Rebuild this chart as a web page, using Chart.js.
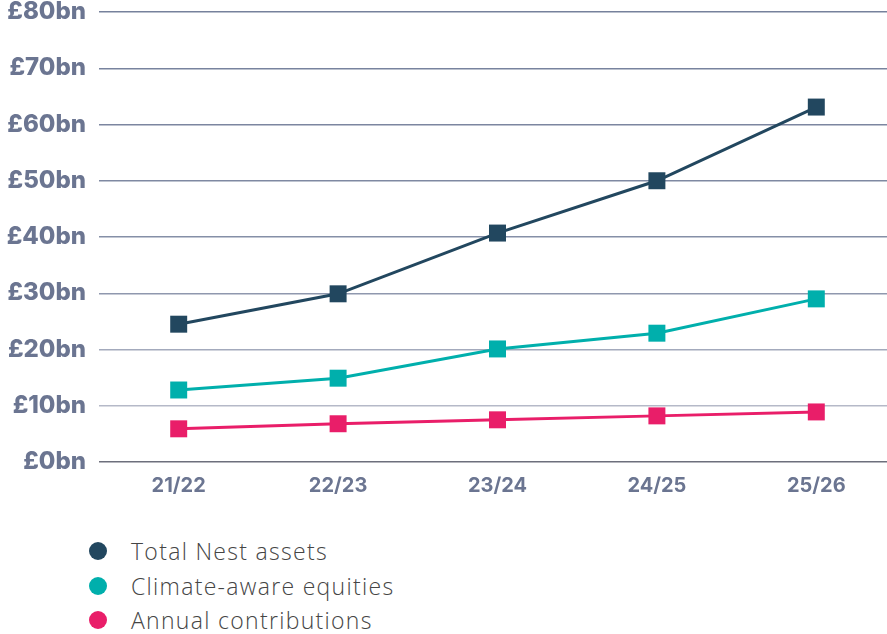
<!DOCTYPE html>
<html>
<head>
<meta charset="utf-8">
<script src="https://cdn.jsdelivr.net/npm/chart.js@4.4.1/dist/chart.umd.min.js"></script>
<style>
  html, body { margin: 0; padding: 0; background: #fff; overflow: hidden; width: 887px; }
  #chart { display: block; width: 908px; height: 500px; }
  #legend { list-style: none; margin: 34px 0 0 0; padding: 0 0 0 89px; font-family: "Open Sans", sans-serif; font-weight: 300; font-size: 23px; letter-spacing: 1.3px; color: #454545; }
  #legend li { height: 34.5px; line-height: 34.5px; display: flex; align-items: center; }
  #legend span.dot { display: inline-block; width: 18px; height: 18px; border-radius: 50%; margin-right: 24px; }
</style>
</head>
<body>
<canvas id="chart" width="908" height="500"></canvas>
<ul id="legend"></ul>
<script>
// ===============================
// DATA
// ===============================
const years = ["21/22", "22/23", "23/24", "24/25", "25/26"];
const totalAssets = [24.5, 29.9, 40.7, 50.0, 63.1];
const climateEquities = [12.8, 14.9, 20.1, 22.9, 29.0];
const annualContributions = [5.9, 6.8, 7.5, 8.2, 8.9];

const seriesNames = ["Total Nest assets", "Climate-aware equities", "Annual contributions"];
const seriesColors = ["#22475f", "#00afac", "#e91e69"];

// grid line colour by value, darker at the top
const gridColors = {
  0: "#6d6f7c", 10: "#b5b9c8", 20: "#a3aabc", 30: "#8f98ae",
  40: "#858fa7", 50: "#7f89a2", 60: "#7c86a0", 70: "#78839e", 80: "#76819c"
};

function makeSet(i, values) {
  return {
    label: seriesNames[i],
    data: values,
    borderColor: seriesColors[i],
    backgroundColor: seriesColors[i],
    borderWidth: 3,
    pointStyle: "rect",
    pointRadius: 12,
    pointHoverRadius: 12,
    pointBorderWidth: 0,
    tension: 0
  };
}

const chart = new Chart(document.getElementById("chart"), {
  type: "line",
  data: {
    labels: years,
    datasets: [
      makeSet(0, totalAssets),
      makeSet(1, climateEquities),
      makeSet(2, annualContributions)
    ]
  },
  options: {
    responsive: false,
    animation: false,
    layout: { padding: { top: 12, right: 0, left: 0, bottom: 0 } },
    plugins: { legend: { display: false }, tooltip: { enabled: false } },
    scales: {
      x: {
        offset: true,
        grid: { display: false, drawTicks: false },
        border: { display: false },
        ticks: {
          color: "#6b7591",
          padding: 12,
          font: { family: "Inter", weight: "bold", size: 20 }
        },
        afterFit: s => {
          s.height = 38;
          s.paddingLeft = 0;
          s.paddingRight = 0;
        }
      },
      y: {
        min: 0,
        max: 80,
        grid: {
          drawTicks: false,
          lineWidth: 1.5,
          color: ctx => gridColors[ctx.tick.value] || "#9aa2b6"
        },
        border: { display: false },
        ticks: {
          stepSize: 10,
          color: "#6b7591",
          padding: 13,
          font: { family: "Inter", weight: "800", size: 24 },
          callback: v => "£" + v + "bn"
        },
        afterFit: s => {
          s.width = 99;
          s.paddingTop = 0;
          s.paddingBottom = 0;
        }
      }
    }
  }
});

// ===============================
// HTML LEGEND
// ===============================
const legend = document.getElementById("legend");
chart.data.datasets.forEach(ds => {
  const li = document.createElement("li");
  li.innerHTML = `<span class="dot" style="background:${ds.borderColor}"></span>${ds.label}`;
  legend.appendChild(li);
});
</script>
</body>
</html>
